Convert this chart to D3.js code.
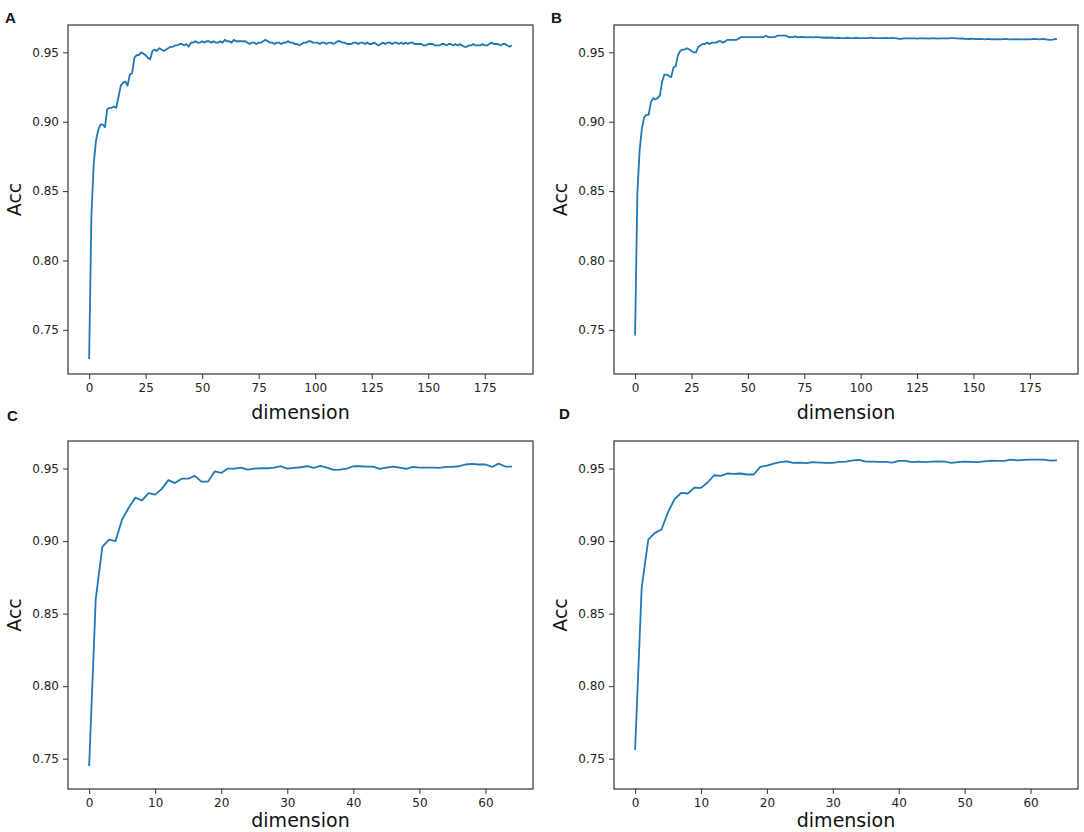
<!DOCTYPE html>
<head>
  <meta charset="utf-8">
  <script src='https://d3js.org/d3.v7.min.js'></script>
  <style>
    body {
      margin: 0;
      background: #fff;
      font-family: "DejaVu Sans", sans-serif;
    }
  </style>
</head>

<body>
<div id='vis'></div>

<script>
// accuracy per dimension, one array per panel
const accA = [
  0.729, 0.832, 0.869, 0.886, 0.894, 0.898, 0.898, 0.896, 0.909, 0.910,
  0.910, 0.911, 0.910, 0.918, 0.926, 0.928, 0.929, 0.926, 0.934, 0.935,
  0.946, 0.948, 0.948, 0.950, 0.949, 0.948, 0.946, 0.945, 0.951, 0.952,
  0.951, 0.953, 0.952, 0.951, 0.952, 0.953, 0.954, 0.954, 0.955, 0.955,
  0.956, 0.956, 0.955, 0.956, 0.954, 0.957, 0.957, 0.958, 0.957, 0.957,
  0.958, 0.957, 0.958, 0.958, 0.957, 0.958, 0.957, 0.957, 0.958, 0.957,
  0.959, 0.958, 0.958, 0.957, 0.959, 0.958, 0.958, 0.958, 0.958, 0.958,
  0.957, 0.956, 0.957, 0.957, 0.956, 0.957, 0.957, 0.958, 0.959, 0.958,
  0.957, 0.957, 0.956, 0.957, 0.957, 0.956, 0.957, 0.957, 0.958, 0.957,
  0.957, 0.956, 0.956, 0.955, 0.956, 0.957, 0.957, 0.958, 0.958, 0.957,
  0.957, 0.957, 0.956, 0.957, 0.957, 0.956, 0.957, 0.957, 0.956, 0.957,
  0.958, 0.958, 0.957, 0.957, 0.956, 0.956, 0.956, 0.957, 0.957, 0.956,
  0.957, 0.957, 0.956, 0.957, 0.956, 0.956, 0.957, 0.956, 0.955, 0.956,
  0.957, 0.956, 0.957, 0.957, 0.956, 0.957, 0.957, 0.956, 0.957, 0.956,
  0.957, 0.956, 0.957, 0.957, 0.956, 0.956, 0.956, 0.956, 0.955, 0.955,
  0.956, 0.956, 0.956, 0.955, 0.955, 0.955, 0.956, 0.956, 0.955, 0.956,
  0.956, 0.955, 0.956, 0.955, 0.956, 0.955, 0.954, 0.954, 0.955, 0.955,
  0.956, 0.955, 0.955, 0.955, 0.956, 0.955, 0.955, 0.956, 0.957, 0.956,
  0.956, 0.956, 0.955, 0.956, 0.956, 0.955, 0.954, 0.955
];

const accB = [
  0.746, 0.848, 0.879, 0.895, 0.903, 0.905, 0.905, 0.914, 0.917, 0.916,
  0.917, 0.919, 0.929, 0.934, 0.934, 0.933, 0.932, 0.939, 0.940, 0.948,
  0.951, 0.952, 0.952, 0.953, 0.952, 0.951, 0.950, 0.950, 0.954, 0.955,
  0.956, 0.956, 0.957, 0.956, 0.957, 0.957, 0.957, 0.958, 0.958, 0.957,
  0.958, 0.959, 0.959, 0.959, 0.959, 0.959, 0.960, 0.961, 0.961, 0.961,
  0.961, 0.961, 0.961, 0.961, 0.961, 0.961, 0.961, 0.961, 0.962, 0.961,
  0.961, 0.961, 0.961, 0.962, 0.962, 0.962, 0.962, 0.962, 0.961, 0.961,
  0.961, 0.9615, 0.961, 0.961, 0.9612, 0.961, 0.9608, 0.961, 0.961, 0.9608,
  0.961, 0.961, 0.9607, 0.9607, 0.9605, 0.9607, 0.9605, 0.9607, 0.9605, 0.9603,
  0.9605, 0.9603, 0.9602, 0.9603, 0.9605, 0.9603, 0.9602, 0.9603, 0.9605, 0.9603,
  0.9602, 0.9603, 0.9603, 0.9602, 0.9604, 0.9605, 0.9603, 0.9602, 0.9603, 0.9602,
  0.9603, 0.9604, 0.9603, 0.9602, 0.9604, 0.9602, 0.960, 0.9598, 0.9597, 0.960,
  0.9601, 0.960, 0.960, 0.9601, 0.960, 0.9599, 0.960, 0.960, 0.9601, 0.960,
  0.9599, 0.960, 0.9601, 0.960, 0.9599, 0.960, 0.960, 0.9601, 0.960, 0.9601,
  0.9602, 0.9603, 0.9601, 0.960, 0.9599, 0.960, 0.9598, 0.9597, 0.9596, 0.9598,
  0.9597, 0.9596, 0.9595, 0.9596, 0.9595, 0.9594, 0.9595, 0.9596, 0.9594, 0.9595,
  0.9594, 0.9595, 0.9594, 0.9595, 0.9596, 0.9595, 0.9594, 0.9593, 0.9595, 0.9594,
  0.9595, 0.9594, 0.9593, 0.9594, 0.9595, 0.9594, 0.9595, 0.9596, 0.9595, 0.9594,
  0.9595, 0.9596, 0.9594, 0.9592, 0.959, 0.9592, 0.9595, 0.9596
];

const accC = [
  0.745, 0.860, 0.896, 0.901, 0.900, 0.915, 0.923, 0.930, 0.928, 0.933,
  0.932, 0.936, 0.942, 0.940, 0.943, 0.943, 0.945, 0.941, 0.941, 0.948,
  0.947, 0.950, 0.950, 0.9507, 0.9493, 0.950, 0.9502, 0.9502, 0.9507, 0.9516,
  0.950, 0.9505, 0.9509, 0.9516, 0.9505, 0.9518, 0.9507, 0.9491, 0.9493, 0.950,
  0.9516, 0.9516, 0.9514, 0.9514, 0.9498, 0.9507, 0.9514, 0.9507, 0.9498, 0.9511,
  0.9507, 0.9507, 0.9507, 0.9505, 0.9511, 0.9511, 0.9516, 0.9528, 0.9532, 0.9528,
  0.9528, 0.9511, 0.9534, 0.9514, 0.9514
];

const accD = [
  0.756, 0.868, 0.901, 0.9057, 0.908, 0.920, 0.929, 0.9333, 0.9328, 0.9369,
  0.9367, 0.9404, 0.9454, 0.945, 0.9466, 0.9463, 0.9466, 0.9459, 0.9459, 0.9511,
  0.9521, 0.9534, 0.9544, 0.955, 0.9539, 0.9541, 0.9537, 0.9544, 0.9541, 0.9539,
  0.9539, 0.9546, 0.9548, 0.9557, 0.956, 0.9548, 0.9548, 0.9546, 0.9546, 0.9541,
  0.9553, 0.9553, 0.9544, 0.9548, 0.9544, 0.9548, 0.955, 0.9548, 0.9539, 0.9544,
  0.9548, 0.9546, 0.9544, 0.955, 0.9555, 0.9553, 0.9553, 0.9562, 0.9557, 0.956,
  0.9562, 0.9562, 0.9562, 0.9555, 0.9557
];

const panelLetters = ['A', 'B', 'C', 'D'];
const xTicksLong = [0, 25, 50, 75, 100, 125, 150, 175];
const xTicksShort = [0, 10, 20, 30, 40, 50, 60];
const yTicks = [0.75, 0.80, 0.85, 0.90, 0.95];

const width = 1084;
const height = 832;
const lineColour = '#1f77b4';

const panels = [
  { letter: panelLetters[0], values: accA, ticks: xTicksLong,
    box: { l: 68, r: 533, t: 25, b: 374 }, xDom: [-9.35, 196.35], yDom: [0.7182, 0.9697],
    letterPos: [5, 23], xLabelY: 419 },
  { letter: panelLetters[1], values: accB, ticks: xTicksLong,
    box: { l: 614, r: 1078, t: 25, b: 374 }, xDom: [-9.35, 196.35], yDom: [0.7182, 0.9697],
    letterPos: [551, 23], xLabelY: 419 },
  { letter: panelLetters[2], values: accC, ticks: xTicksShort,
    box: { l: 68, r: 533, t: 441, b: 789 }, xDom: [-3.2, 67.2], yDom: [0.7291, 0.969],
    letterPos: [7, 421], xLabelY: 827 },
  { letter: panelLetters[3], values: accD, ticks: xTicksShort,
    box: { l: 614, r: 1078, t: 441, b: 789 }, xDom: [-3.2, 67.2], yDom: [0.7291, 0.969],
    letterPos: [559, 419], xLabelY: 827 }
];

const svg = d3.select('#vis')
  .append('svg')
  .attr('width', width)
  .attr('height', height);

function drawPanel(p) {
  const x = d3.scaleLinear().domain(p.xDom).range([p.box.l, p.box.r]);
  const y = d3.scaleLinear().domain(p.yDom).range([p.box.b, p.box.t]);

  const g = svg.append('g');

  const line = d3.line()
    .x((d, i) => x(i))
    .y(d => y(d));

  g.append('path')
    .datum(p.values)
    .attr('fill', 'none')
    .attr('stroke', lineColour)
    .attr('stroke-width', 1.8)
    .attr('stroke-linejoin', 'round')
    .attr('d', line);

  const xAxis = g.append('g')
    .attr('transform', `translate(0,${p.box.b})`)
    .call(d3.axisBottom(x).tickValues(p.ticks).tickSize(5).tickPadding(4).tickFormat(d3.format('d')));

  const yAxis = g.append('g')
    .attr('transform', `translate(${p.box.l},0)`)
    .call(d3.axisLeft(y).tickValues(yTicks).tickSize(5).tickPadding(4).tickFormat(d3.format('.2f')));

  [xAxis, yAxis].forEach(a => {
    a.select('.domain').remove();
    a.selectAll('line').attr('stroke', '#333').attr('stroke-width', 1);
    a.selectAll('text')
      .attr('fill', '#222')
      .style('font-family', '"DejaVu Sans", sans-serif')
      .style('font-size', '12px');
  });

  // frame
  g.append('rect')
    .attr('x', p.box.l)
    .attr('y', p.box.t)
    .attr('width', p.box.r - p.box.l)
    .attr('height', p.box.b - p.box.t)
    .attr('fill', 'none')
    .attr('stroke', '#333')
    .attr('stroke-width', 1.2);

  g.append('text')
    .attr('x', (p.box.l + p.box.r) / 2)
    .attr('y', p.xLabelY)
    .attr('text-anchor', 'middle')
    .style('font-size', '19px')
    .attr('fill', '#111')
    .text('dimension');

  g.append('text')
    .attr('transform', `translate(${p.box.l - 47},${(p.box.t + p.box.b) / 2}) rotate(-90)`)
    .attr('text-anchor', 'middle')
    .style('font-size', '19px')
    .attr('fill', '#111')
    .text('Acc');

  g.append('text')
    .attr('x', p.letterPos[0])
    .attr('y', p.letterPos[1])
    .style('font-family', '"Liberation Sans", Arial, sans-serif')
    .style('font-weight', 'bold')
    .style('font-size', '15px')
    .attr('fill', '#111')
    .text(p.letter);
}

panels.forEach(drawPanel);
</script>
</body>
